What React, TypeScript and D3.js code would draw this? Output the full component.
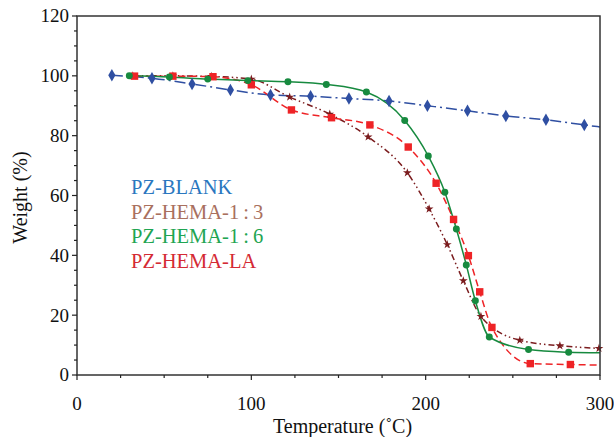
import React, { useRef, useEffect } from "react";
import * as d3 from "d3";

// Weight loss curves (temperature in degC, weight in %)
const blankTemp = [20, 43, 66, 88, 111, 134, 156, 179, 201, 224, 246, 269, 291];
const blankWeight = [100.2, 99.2, 97.3, 95.3, 93.6, 93.2, 92.4, 91.6, 90.0, 88.3, 86.6, 85.3, 83.6];
const blankEnd = [300, 82.9];

const hema13Temp = [32, 55, 77, 100, 122, 145, 167, 189.5, 202, 212.4, 221.6, 231.7, 254, 277, 299.4];
const hema13Weight = [100, 100, 99.8, 98.9, 92.9, 87.2, 79.6, 67.6, 55.5, 43.6, 31.5, 19.6, 11.6, 9.8, 8.9];

const hema16Temp = [30, 53, 75, 98, 121, 143, 166, 188, 201.5, 211, 217.6, 223.3, 228.5, 236.5, 259, 282];
const hema16Weight = [100, 99.6, 98.9, 98.4, 98.0, 97.1, 94.6, 85.1, 73.2, 61.1, 48.8, 36.8, 24.8, 12.7, 8.5, 7.6];
const hema16End = [300, 7.4];

const hemaLaTemp = [33, 55, 78, 100, 123, 146, 168, 190, 206, 216, 224.5, 231, 238, 260, 283];
const hemaLaWeight = [99.9, 99.9, 99.7, 97.0, 88.6, 86.0, 83.6, 76.2, 64.1, 52.0, 39.9, 27.8, 15.9, 3.8, 3.5];
const hemaLaEnd = [300, 3.3];

const legendLabels = ["PZ-BLANK", "PZ-HEMA-1\u2009:\u20093", "PZ-HEMA-1\u2009:\u20096", "PZ-HEMA-LA"];
const legendColors = ["#2a77bf", "#a9705e", "#1fa552", "#d42a34"];

const xTicks = [0, 100, 200, 300];
const yTicks = [0, 20, 40, 60, 80, 100, 120];

const App = () => {
  const svgRef = useRef<SVGSVGElement>(null);

  useEffect(() => {
    const width = 614;
    const height = 437;
    const margin = { top: 16, right: 14, bottom: 62, left: 77 };

    const svg = d3.select(svgRef.current);
    svg.selectAll("*").remove();

    const x = d3.scaleLinear().domain([0, 300]).range([margin.left, width - margin.right]);
    const y = d3.scaleLinear().domain([0, 120]).range([height - margin.bottom, margin.top]);

    const font = "'Liberation Serif', 'Times New Roman', serif";

    // series definitions built from the arrays above
    const series = [
      { t: blankTemp, w: blankWeight, end: blankEnd, color: "#2f4fa2", dash: "11,4,2,4", marker: d3.symbolDiamond, size: 45 },
      { t: hema13Temp, w: hema13Weight, end: null, color: "#7b1c1e", dash: "6,3,1.5,3,1.5,3", marker: d3.symbolStar, size: 24 },
      { t: hemaLaTemp, w: hemaLaWeight, end: hemaLaEnd, color: "#ee2326", dash: "7,4", marker: d3.symbolSquare, size: 55 },
      { t: hema16Temp, w: hema16Weight, end: hema16End, color: "#178a3f", dash: null, marker: d3.symbolCircle, size: 38 },
    ];

    const line = d3
      .line<number[]>()
      .x((d) => x(d[0]))
      .y((d) => y(d[1]))
      .curve(d3.curveMonotoneX);

    series.forEach((s) => {
      const pts = s.t.map((t, i) => [t, s.w[i]]);
      const linePts = s.end ? [...pts, s.end] : pts;
      svg
        .append("path")
        .attr("d", line(linePts))
        .attr("fill", "none")
        .attr("stroke", s.color)
        .attr("stroke-width", 1.5)
        .attr("stroke-dasharray", s.dash);
    });

    series.forEach((s) => {
      const pts = s.t.map((t, i) => [t, s.w[i]]);
      svg
        .append("g")
        .selectAll("path")
        .data(pts)
        .enter()
        .append("path")
        .attr("transform", (d) => `translate(${x(d[0])},${y(d[1])})`)
        .attr("d", d3.symbol().type(s.marker).size(s.size)())
        .attr("fill", s.color);
    });

    // frame
    svg
      .append("rect")
      .attr("x", x(0))
      .attr("y", y(120))
      .attr("width", x(300) - x(0))
      .attr("height", y(0) - y(120))
      .attr("fill", "none")
      .attr("stroke", "#333")
      .attr("stroke-width", 1.5);

    // y ticks
    const yMinor = d3.range(0, 121, 5);
    svg
      .append("g")
      .selectAll("line")
      .data(yMinor)
      .enter()
      .append("line")
      .attr("x1", x(0))
      .attr("x2", (d) => x(0) - (d % 20 === 0 ? 5 : 3))
      .attr("y1", (d) => y(d))
      .attr("y2", (d) => y(d))
      .attr("stroke", "#222")
      .attr("stroke-width", 1.2);

    svg
      .append("g")
      .selectAll("text")
      .data(yTicks)
      .enter()
      .append("text")
      .attr("x", x(0) - 8)
      .attr("y", (d) => y(d))
      .attr("dy", "0.34em")
      .attr("text-anchor", "end")
      .style("font-family", font)
      .style("font-size", "19px")
      .attr("fill", "#111")
      .text((d) => d);

    // x ticks
    const xMinor = d3.range(0, 301, 25);
    svg
      .append("g")
      .selectAll("line")
      .data(xMinor)
      .enter()
      .append("line")
      .attr("x1", (d) => x(d))
      .attr("x2", (d) => x(d))
      .attr("y1", y(0))
      .attr("y2", (d) => y(0) + (d % 100 === 0 ? 5 : 3))
      .attr("stroke", "#222")
      .attr("stroke-width", 1.2);

    svg
      .append("g")
      .selectAll("text")
      .data(xTicks)
      .enter()
      .append("text")
      .attr("x", (d) => x(d))
      .attr("y", y(0) + 35)
      .attr("text-anchor", "middle")
      .style("font-family", font)
      .style("font-size", "19px")
      .attr("fill", "#111")
      .text((d) => d);

    // axis titles
    svg
      .append("text")
      .attr("x", (x(0) + x(300)) / 2 + 4)
      .attr("y", 433)
      .attr("text-anchor", "middle")
      .style("font-family", font)
      .style("font-size", "20px")
      .attr("fill", "#111")
      .text("Temperature (\u02DAC)");

    svg
      .append("text")
      .attr("transform", `translate(27,${(y(0) + y(120)) / 2 + 2}) rotate(-90)`)
      .attr("text-anchor", "middle")
      .style("font-family", font)
      .style("font-size", "20px")
      .attr("fill", "#111")
      .text("Weight (%)");

    // legend (text only)
    svg
      .append("g")
      .selectAll("text")
      .data(legendLabels)
      .enter()
      .append("text")
      .attr("x", 131)
      .attr("y", (d, i) => 194 + i * 24.7)
      .style("font-family", font)
      .style("font-size", "20.5px")
      .attr("fill", (d, i) => legendColors[i])
      .text((d) => d);
  }, []);

  return (
    <svg
      ref={svgRef}
      width={614}
      height={437}
      style={{ position: "absolute", left: 0, top: 0, background: "#fff" }}
    />
  );
};

export default App;
